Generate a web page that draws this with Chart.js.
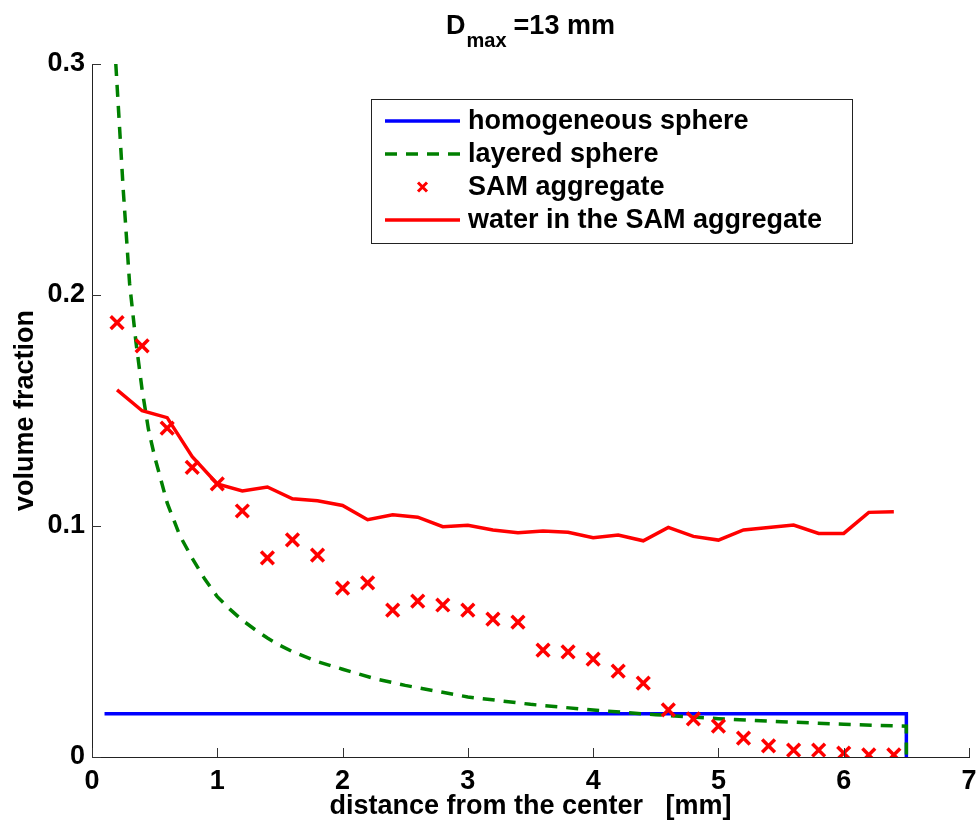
<!DOCTYPE html>
<html>
<head>
<meta charset="utf-8">
<title>volume fraction profile</title>
<script src="https://cdn.jsdelivr.net/npm/chart.js@4/dist/chart.umd.min.js"></script>
<style>
  html, body { margin: 0; padding: 0; background: #fff; }
  #plot { display: block; }
</style>
</head>
<body>
<canvas id="plot" width="976" height="830"></canvas>
<script>
// ----------------------------
// DATA
// ----------------------------
const homX = [0.1, 6.5, 6.5];
const homY = [0.0187, 0.0187, 0];

const layX = [0.19, 0.25, 0.3, 0.35, 0.4, 0.45, 0.5, 0.6, 0.7, 0.8, 0.9, 1.0, 1.1, 1.2, 1.3,
  1.4, 1.5, 1.6, 1.8, 2.0, 2.25, 2.5, 3.0, 3.5, 4.0, 4.5, 5.0, 5.5, 6.0, 6.5, 6.5];
const layY = [0.300, 0.245, 0.205, 0.180, 0.159, 0.142, 0.130, 0.110, 0.096, 0.086, 0.077,
  0.0694, 0.0640, 0.0592, 0.0552, 0.0515, 0.0483, 0.0456, 0.0413, 0.0380, 0.034, 0.031,
  0.026, 0.0228, 0.0203, 0.0183, 0.0166, 0.0153, 0.0142, 0.0133, 0];

const samX = [0.2, 0.4, 0.6, 0.8, 1.0, 1.2, 1.4, 1.6, 1.8, 2.0, 2.2, 2.4, 2.6, 2.8, 3.0, 3.2,
  3.4, 3.6, 3.8, 4.0, 4.2, 4.4, 4.6, 4.8, 5.0, 5.2, 5.4, 5.6, 5.8, 6.0, 6.2, 6.4];
const samY = [0.188, 0.178, 0.1424, 0.1254, 0.1182, 0.1065, 0.0862, 0.0940, 0.0874, 0.0731,
  0.0754, 0.0636, 0.0675, 0.0658, 0.0636, 0.0597, 0.0584, 0.0463, 0.0455, 0.0424, 0.0372,
  0.0320, 0.0204, 0.0165, 0.0134, 0.0082, 0.0048, 0.0030, 0.0030, 0.0017, 0.0009, 0.0009];

const waterY = [0.1589, 0.1499, 0.1469, 0.1300, 0.1182, 0.1152, 0.1169, 0.1118, 0.1109,
  0.1089, 0.1027, 0.1049, 0.1038, 0.0997, 0.1003, 0.0983, 0.0971, 0.0978, 0.0973, 0.0949,
  0.0961, 0.0936, 0.0994, 0.0955, 0.0939, 0.0983, 0.0994, 0.1004, 0.0968, 0.0968, 0.1059,
  0.1062];

const xTicks = [0, 1, 2, 3, 4, 5, 6, 7];
const yTicks = [0, 0.1, 0.2, 0.3];
const yTickLabels = ['0', '0.1', '0.2', '0.3'];

const seriesNames = ['homogeneous sphere', 'layered sphere', 'SAM aggregate', 'water in the SAM aggregate'];

const FONT = 'Liberation Sans, Arial, Helvetica, sans-serif';
const BLUE = '#0000ff';
const GREEN = '#008000';
const RED = '#ff0000';

const pts = (xs, ys) => xs.map((x, i) => ({ x, y: ys[i] }));

// ----------------------------
// PLUGINS
// ----------------------------
// inward tick marks, MATLAB style
const innerTicks = {
  id: 'innerTicks',
  afterDraw(chart) {
    const { ctx, chartArea, scales } = chart;
    const len = 9;
    ctx.save();
    ctx.strokeStyle = '#333';
    ctx.lineWidth = 1;
    ctx.beginPath();
    xTicks.forEach(v => {
      const px = Math.round(scales.x.getPixelForValue(v)) + 0.5;
      ctx.moveTo(px, chartArea.bottom);
      ctx.lineTo(px, chartArea.bottom - len);
    });
    yTicks.forEach(v => {
      const py = Math.round(scales.y.getPixelForValue(v)) + 0.5;
      ctx.moveTo(chartArea.left, py);
      ctx.lineTo(chartArea.left + len, py);
    });
    ctx.stroke();
    ctx.restore();
  }
};

// title with subscript: D_max =13 mm
const subTitle = {
  id: 'subTitle',
  afterDraw(chart) {
    const { ctx, chartArea } = chart;
    ctx.save();
    ctx.fillStyle = '#000';
    ctx.textBaseline = 'alphabetic';
    ctx.textAlign = 'left';
    const big = 'bold 27px ' + FONT;
    const small = 'bold 20px ' + FONT;
    ctx.font = big;
    const wD = ctx.measureText('D').width;
    const wRest = ctx.measureText('=13 mm').width;
    ctx.font = small;
    const wSub = ctx.measureText('max').width;
    const gap = 7;
    const total = wD + 1 + wSub + gap + wRest;
    let x = (chartArea.left + chartArea.right) / 2 - total / 2;
    ctx.font = big;
    ctx.fillText('D', x, 34);
    x += wD + 1;
    ctx.font = small;
    ctx.fillText('max', x, 47);
    x += wSub + gap;
    ctx.font = big;
    ctx.fillText('=13 mm', x, 34);
    ctx.restore();
  }
};

// boxed legend inside the axes
const boxLegend = {
  id: 'boxLegend',
  afterDraw(chart) {
    const { ctx } = chart;
    const box = { x: 371, y: 99, w: 481, h: 144 };
    const rows = [121, 154, 187, 220];
    const lx0 = 385, lx1 = 460, tx = 468;
    ctx.save();
    ctx.fillStyle = '#fff';
    ctx.fillRect(box.x, box.y, box.w, box.h);
    ctx.strokeStyle = '#222';
    ctx.lineWidth = 1;
    ctx.strokeRect(box.x + 0.5, box.y + 0.5, box.w, box.h);

    // line samples
    ctx.lineWidth = 3.5;
    ctx.strokeStyle = BLUE;
    ctx.beginPath(); ctx.moveTo(lx0, rows[0]); ctx.lineTo(lx1, rows[0]); ctx.stroke();
    ctx.strokeStyle = GREEN;
    ctx.setLineDash([12, 9]);
    ctx.beginPath(); ctx.moveTo(lx0, rows[1]); ctx.lineTo(lx1, rows[1]); ctx.stroke();
    ctx.setLineDash([]);
    ctx.strokeStyle = RED;
    ctx.beginPath(); ctx.moveTo(lx0, rows[3]); ctx.lineTo(lx1, rows[3]); ctx.stroke();
    // cross marker
    const cx = (lx0 + lx1) / 2, cy = rows[2], r = 4.5;
    ctx.lineWidth = 3;
    ctx.beginPath();
    ctx.moveTo(cx - r, cy - r); ctx.lineTo(cx + r, cy + r);
    ctx.moveTo(cx + r, cy - r); ctx.lineTo(cx - r, cy + r);
    ctx.stroke();

    ctx.fillStyle = '#000';
    ctx.font = 'bold 27px ' + FONT;
    ctx.textBaseline = 'middle';
    ctx.textAlign = 'left';
    seriesNames.forEach((name, i) => ctx.fillText(name, tx, rows[i] + 1));
    ctx.restore();
  }
};

// ----------------------------
// CHART
// ----------------------------
const tickFont = { family: FONT, size: 27, weight: 'bold' };

new Chart(document.getElementById('plot'), {
  type: 'line',
  data: {
    datasets: [
      {
        label: seriesNames[0],
        data: pts(homX, homY),
        borderColor: BLUE,
        borderWidth: 3.5,
        pointRadius: 0,
        order: 4
      },
      {
        label: seriesNames[1],
        data: pts(layX, layY),
        borderColor: GREEN,
        borderWidth: 3.5,
        borderDash: [12, 9],
        pointRadius: 0,
        order: 3
      },
      {
        label: seriesNames[2],
        data: pts(samX, samY),
        showLine: false,
        pointStyle: 'crossRot',
        pointRadius: 9,
        pointBorderWidth: 3.5,
        borderColor: RED,
        pointBorderColor: RED,
        order: 2
      },
      {
        label: seriesNames[3],
        data: pts(samX, waterY),
        borderColor: RED,
        borderWidth: 3.5,
        pointRadius: 0,
        order: 1
      }
    ]
  },
  options: {
    responsive: false,
    animation: false,
    events: [],
    layout: { autoPadding: false, padding: { top: 64, right: 7, left: 0, bottom: 0 } },
    plugins: {
      legend: { display: false },
      title: { display: false },
      tooltip: { enabled: false }
    },
    scales: {
      x: {
        type: 'linear',
        min: 0,
        max: 7,
        afterBuildTicks: s => { s.ticks = xTicks.map(v => ({ value: v })); },
        ticks: { font: tickFont, color: '#000', padding: 8, maxRotation: 0 },
        grid: { display: false, drawTicks: false },
        border: { display: true, color: '#222', width: 1 },
        title: {
          display: true,
          text: 'distance from the center   [mm]',
          font: tickFont,
          color: '#000',
          padding: { top: 0, bottom: 7 }
        },
        afterFit: s => {
          s.height = 73;
          s.paddingLeft = 0;
          s.paddingRight = 0;
        }
      },
      y: {
        type: 'linear',
        min: 0,
        max: 0.3,
        afterBuildTicks: s => { s.ticks = yTicks.map(v => ({ value: v })); },
        ticks: {
          font: tickFont,
          color: '#000',
          padding: 7,
          callback: (v, i) => yTickLabels[i]
        },
        grid: { display: false, drawTicks: false },
        border: { display: true, color: '#222', width: 1 },
        title: {
          display: true,
          text: 'volume fraction',
          font: tickFont,
          color: '#000',
          padding: { top: 9, bottom: 0 }
        },
        afterFit: s => { s.width = 92; }
      }
    }
  },
  plugins: [innerTicks, boxLegend, subTitle]
});
</script>
</body>
</html>
